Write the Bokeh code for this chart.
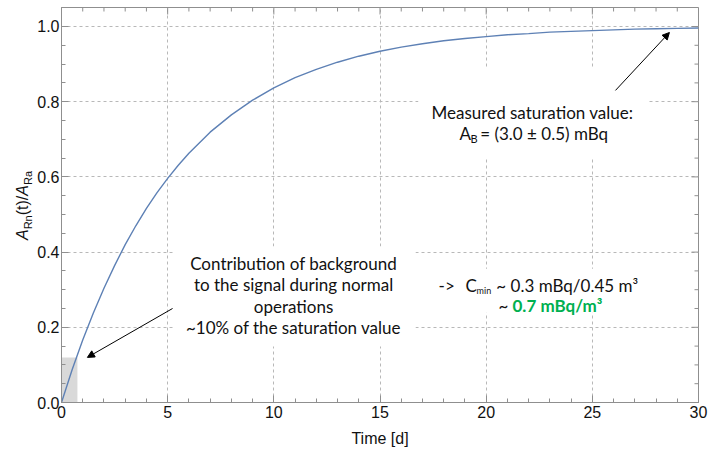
from bokeh.plotting import figure
from bokeh.layouts import row
from bokeh.models import (Range1d, LinearAxis, SingleIntervalTicker, NumeralTickFormatter,
                          Label, Arrow, NormalHead, Grid, Div)
from bokeh.embed import file_html
from bokeh.resources import INLINE

# ---- data ----
time_d = [0, 0.5, 1, 1.5, 2, 2.5, 3, 3.5, 4, 4.5, 5, 5.5, 6, 7, 8, 9, 10, 11, 12, 13, 14,
          15, 16, 17, 18, 19, 20, 21, 22, 23, 24, 25, 26, 27, 28, 29, 30]
activity_ratio = [0.0, 0.087, 0.166, 0.238, 0.304, 0.364, 0.42, 0.47, 0.516, 0.558, 0.596,
                  0.631, 0.663, 0.719, 0.765, 0.804, 0.837, 0.864, 0.886, 0.905, 0.921,
                  0.934, 0.945, 0.954, 0.962, 0.968, 0.973, 0.978, 0.981, 0.985, 0.987,
                  0.989, 0.991, 0.993, 0.994, 0.995, 0.996]
bg_time = 0.75      # width of grey background region [d]
bg_level = 0.12     # height of grey background region

x_major = [0, 5, 10, 15, 20, 25, 30]
y_major = [0.0, 0.2, 0.4, 0.6, 0.8, 1.0]

contribution_lines = ["Contribution of background", "to the signal during normal",
                      "operations", "~10% of the saturation value"]

X0, X1 = 0, 30
Y0, Y1 = 0, 1.0505

AXIS_COL = "#8f8f8f"
TXT_COL = "#111111"
GRID_COL = "#b8b8b8"
ANN_FONT = "Lato"
TICK_FONT = "Liberation Sans"

DIV_W = 33
p = figure(width=709 - DIV_W, height=451, x_range=Range1d(X0, X1), y_range=Range1d(Y0, Y1),
           output_backend="svg", toolbar_location=None, x_axis_type=None, y_axis_type=None,
           min_border_left=61 - DIV_W, min_border_right=11, min_border_top=7,
           min_border_bottom=49)
p.outline_line_color = AXIS_COL
p.background_fill_color = "white"

xt = SingleIntervalTicker(interval=5, num_minor_ticks=5)
yt = SingleIntervalTicker(interval=0.2, num_minor_ticks=4)


def style_axis(ax):
    ax.axis_line_color = AXIS_COL
    ax.axis_line_width = 1
    ax.major_tick_line_color = AXIS_COL
    ax.minor_tick_line_color = AXIS_COL
    ax.major_tick_in = 7
    ax.major_tick_out = 0
    ax.minor_tick_in = 4
    ax.minor_tick_out = 0
    ax.major_label_text_font = TICK_FONT
    ax.major_label_text_font_size = "16px"
    ax.major_label_text_color = TXT_COL
    ax.major_label_standoff = 3


xb = LinearAxis(ticker=xt, formatter=NumeralTickFormatter(format="0"))
style_axis(xb)
xb.axis_label = "Time [d]"
xb.axis_label_text_font = TICK_FONT
xb.axis_label_text_font_size = "16px"
xb.axis_label_text_font_style = "normal"
xb.axis_label_text_color = TXT_COL
xb.axis_label_standoff = 9
p.add_layout(xb, "below")

yl = LinearAxis(ticker=yt, formatter=NumeralTickFormatter(format="0.0"))
style_axis(yl)
yl.major_label_standoff = 2
yl.axis_label_standoff = 0
p.add_layout(yl, "left")

p.add_layout(Grid(dimension=0, ticker=xt, grid_line_color=GRID_COL, grid_line_dash="3 3",
                  grid_line_width=1))
p.add_layout(Grid(dimension=1, ticker=yt, grid_line_color=GRID_COL, grid_line_dash="3 3",
                  grid_line_width=1))

# ticks on the top and right frame edges
px_x = 637 / (X1 - X0)
px_y = 395 / (Y1 - Y0)
x_minor = [v for v in range(X0, X1 + 1) if v not in x_major]
y_minor = [round(0.05 * k, 2) for k in range(0, 21) if k % 4 != 0]
p.segment(x0=x_major, y0=[Y1] * len(x_major), x1=x_major, y1=[Y1 - 7 / px_y] * len(x_major),
          line_color=AXIS_COL, line_width=1)
p.segment(x0=x_minor, y0=[Y1] * len(x_minor), x1=x_minor, y1=[Y1 - 4 / px_y] * len(x_minor),
          line_color=AXIS_COL, line_width=1)
p.segment(x0=[X1] * len(y_major), y0=y_major, x1=[X1 - 7 / px_x] * len(y_major), y1=y_major,
          line_color=AXIS_COL, line_width=1)
p.segment(x0=[X1] * len(y_minor), y0=y_minor, x1=[X1 - 4 / px_x] * len(y_minor), y1=y_minor,
          line_color=AXIS_COL, line_width=1)

# white text boxes hiding the grid
p.quad(left=5.32, right=16.67, bottom=0.149, top=0.415, fill_color="white", line_color=None)
p.quad(left=16.81, right=27.65, bottom=0.652, top=0.891, fill_color="white", line_color=None)
p.quad(left=17.38, right=27.27, bottom=0.239, top=0.356, fill_color="white", line_color=None)

# grey background region
p.quad(left=0, right=bg_time, bottom=0, top=bg_level, fill_color="#d9d9d9", line_color=None)

# curve
p.line(time_d, activity_ratio, line_color="#5e81b5", line_width=1.4)

# arrows
p.add_layout(Arrow(end=NormalHead(size=7, fill_color="black", line_color="black", line_width=1),
                   x_start=5.23, y_start=0.250, x_end=1.22, y_end=0.120,
                   line_color="black", line_width=1))
p.add_layout(Arrow(end=NormalHead(size=7, fill_color="black", line_color="black", line_width=1),
                   x_start=26.09, y_start=0.830, x_end=28.63, y_end=0.984,
                   line_color="black", line_width=1))


def lab(x, y, text, size="17px", align="left", color=TXT_COL, style="normal", yo=0):
    p.add_layout(Label(x=x, y=y, text=text, text_font=ANN_FONT, text_font_size=size,
                       text_align=align, text_baseline="middle", text_color=color,
                       text_font_style=style, y_offset=yo))


# contribution text
for t, yy in zip(contribution_lines, [0.370, 0.314, 0.255, 0.199]):
    lab(10.93, yy, t, align="center")

# measured saturation text
lab(22.18, 0.771, "Measured saturation value:", align="center")
lab(18.74, 0.715, "A")
lab(19.26, 0.715, "B", size="11px", yo=-5)
lab(19.72, 0.715, " = (3.0 \u00b1 0.5) mBq")

# C_min text
lab(17.76, 0.311, "->")
lab(19.03, 0.311, "C")
lab(19.55, 0.311, "min", size="9px", yo=-5)
lab(20.48, 0.311, "~ 0.3 mBq/0.45 m\u00b3")
lab(20.58, 0.258, "~")
lab(21.24, 0.258, "0.7 mBq/m\u00b3", color="#00b050", style="bold")

# rotated y axis label  A_Rn(t)/A_Ra
ylabel_html = (
    '<div style="position:relative;width:%dpx;height:451px;">'
    '<span style="position:absolute;left:14px;top:240px;transform:rotate(-90deg);'
    'transform-origin:left top;white-space:nowrap;font-family:\'Liberation Sans\';'
    'font-size:16px;line-height:18px;color:#111111;">'
    '<i>A</i><sub style="font-size:11px;vertical-align:-4px;">Rn</sub>(t)/'
    '<i>A</i><sub style="font-size:11px;vertical-align:-4px;">Ra</sub></span></div>'
) % DIV_W
ylab = Div(text=ylabel_html, width=DIV_W, height=451, margin=(0, 0, 0, 0))

layout = row(ylab, p, spacing=0)
open("out.html", "w").write(file_html(layout, INLINE))
